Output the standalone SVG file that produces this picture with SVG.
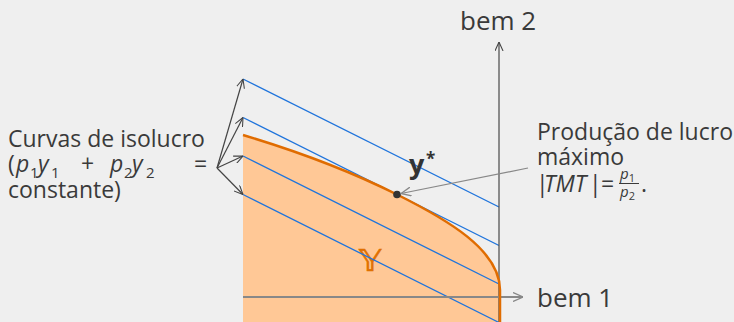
<svg xmlns="http://www.w3.org/2000/svg" width="734" height="322" viewBox="0 0 734 322">
<style>
text{font-family:"Open Sans","Noto Sans","DejaVu Sans",sans-serif;fill:#3a3a3a}
.lbl{font-size:23px}
.ax{font-size:26px}
.iso{stroke:#1f74dc;stroke-width:1.3;fill:none}
.arr{stroke:#444;stroke-width:1.2;fill:none;marker-end:url(#hd)}
.sub{font-size:15px}
.it{font-style:italic}
.fr{font-size:15px}
.frs{font-size:11px}
</style>
<defs>
<marker id="hd" viewBox="0 0 10 10" refX="10" refY="5" markerWidth="9" markerHeight="9" markerUnits="userSpaceOnUse" orient="auto">
<path d="M0,0.5 L10,5 L0,9.5" fill="none" stroke="#444" stroke-width="1.2"/>
</marker>
<marker id="hg" viewBox="0 0 10 10" refX="10" refY="5" markerWidth="10" markerHeight="10" markerUnits="userSpaceOnUse" orient="auto">
<path d="M0,0.5 L10,5 L0,9.5" fill="none" stroke="#888" stroke-width="1.3"/>
</marker>
</defs>
<rect width="734" height="322" fill="#efefef"/>

<g id="region">
<path d="M243,135 C300,152 350,171 397,194.5 C447,219.5 500,250 500,290 L500,322 L243,322 Z" fill="#ffc896"/>
<text x="359" y="271" style="font-family:'DejaVu Sans',sans-serif;font-size:30px;font-weight:bold;fill:#e07000;stroke:#e07000;stroke-width:0.6">𝕐</text>
</g>

<g id="connectors">
<line class="iso" x1="243" y1="79" x2="499" y2="207"/>
<line class="iso" x1="243" y1="117.5" x2="499" y2="245.5"/>
<line class="iso" x1="243" y1="156" x2="499" y2="284"/>
<line class="iso" x1="243" y1="194.5" x2="499" y2="322.5"/>
<line class="arr" x1="217" y1="168" x2="243" y2="79"/>
<line class="arr" x1="217" y1="168" x2="243" y2="117.5"/>
<line class="arr" x1="217" y1="168" x2="243" y2="156"/>
<line class="arr" x1="217" y1="168" x2="243" y2="194.5"/>
<line x1="499" y1="322" x2="499" y2="42" stroke="#555" stroke-width="1.3" marker-end="url(#hd)"/>
<line x1="243" y1="297" x2="523" y2="297" stroke="#888" stroke-width="2" marker-end="url(#hg)"/>
<line x1="528" y1="168" x2="401" y2="193.5" stroke="#888" stroke-width="1.2" marker-end="url(#hg)"/>
</g>

<g id="frontier">
<path d="M243,135 C300,152 350,171 397,194.5 C447,219.5 500,250 500,290 L500,322" fill="none" stroke="#e06c00" stroke-width="2.5"/>
</g>

<g id="ystar">
<circle cx="397" cy="194.5" r="3.8" fill="#333"/>
<text x="409" y="174" style="font-size:27px;font-weight:bold;fill:#333">y</text>
<text x="426" y="165" style="font-size:17px;font-weight:bold;fill:#333">*</text>
</g>

<g id="axis-labels">
<text class="ax" x="460" y="30">bem 2</text>
<text class="ax" x="537" y="307">bem 1</text>
</g>

<g id="isoprofit-label">
<text class="lbl" x="8" y="147">Curvas de isolucro</text>
<text class="lbl" y="172"><tspan x="8">(</tspan><tspan x="16" class="it">p</tspan><tspan x="30" class="sub" dy="6">1</tspan><tspan x="38" class="it" dy="-6">y</tspan><tspan x="51" class="sub" dy="6">1</tspan><tspan x="81" dy="-6">+</tspan><tspan x="110" class="it">p</tspan><tspan x="124" class="sub" dy="6">2</tspan><tspan x="132" class="it" dy="-6">y</tspan><tspan x="146" class="sub" dy="6">2</tspan><tspan x="194" dy="-6">=</tspan></text>
<text class="lbl" x="8" y="198">constante)</text>
</g>

<g id="max-label">
<text class="lbl" x="537" y="140">Produção de lucro</text>
<text class="lbl" x="537" y="165">máximo</text>
<text class="lbl" y="192"><tspan x="536">|</tspan><tspan x="544" class="it">TMT</tspan><tspan x="589">|</tspan><tspan x="601">=</tspan></text>
<text class="fr" x="620" y="179"><tspan class="it">p</tspan><tspan class="frs" dy="3">1</tspan></text>
<line x1="619" y1="183.5" x2="639" y2="183.5" stroke="#3a3a3a" stroke-width="1"/>
<text class="fr" x="620" y="197"><tspan class="it">p</tspan><tspan class="frs" dy="3">2</tspan></text>
<text class="lbl" x="641" y="192">.</text>
</g>
</svg>
